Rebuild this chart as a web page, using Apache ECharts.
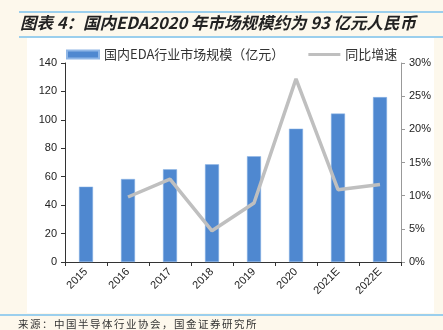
<!DOCTYPE html>
<html><head><meta charset="utf-8">
<script src="https://cdn.jsdelivr.net/npm/echarts@6/dist/echarts.min.js"></script>
<style>html,body{margin:0;padding:0;background:#fdf8ec;}#c{width:443px;height:330px;}</style>
</head><body><div id="c"></div>
<script>
var categories = ['2015','2016','2017','2018','2019','2020','2021E','2022E'];
var marketSize = [53.0, 58.4, 65.2, 68.7, 74.4, 93.8, 104.4, 116.0];
var growth = [null, 9.8, 12.5, 4.7, 8.9, 27.6, 10.9, 11.7];
var leftTicks = [0, 20, 40, 60, 80, 100, 120, 140];
var rightTicks = ['0%','5%','10%','15%','20%','25%','30%'];
var titleText = '图表 4：国内EDA2020 年市场规模约为 93 亿元人民币';
var sourceText = '来源：中国半导体行业协会，国金证券研究所';
var seriesNames = ['国内EDA行业市场规模（亿元）', '同比增速'];

var chart = echarts.init(document.getElementById('c'), null, {renderer:'canvas'});
var fontLatin = 'Liberation Sans, Arial, sans-serif';
var fontCJK = '"Noto Sans CJK SC", sans-serif';

var sourceChars = sourceText.split('').map(function(ch, i){
  return {type:'text', x:18 + i*12, y:319, style:{text:ch, font:'10.5px "Noto Sans CJK SC", sans-serif', fill:'#333'}};
});

chart.setOption({
  animation:false,
  backgroundColor:'#fdf8ec',
  graphic:[
    {type:'rect', z:-10, shape:{x:27,y:38,width:407,height:275}, style:{fill:'#ffffff'}},
    {type:'line', shape:{x1:19,y1:12,x2:443,y2:12}, style:{stroke:'#3aa6ee',lineWidth:1.2}},
    {type:'line', shape:{x1:19,y1:37,x2:443,y2:37}, style:{stroke:'#3aa6ee',lineWidth:1.2}},
    {type:'line', shape:{x1:0,y1:315,x2:443,y2:315}, style:{stroke:'#3aa6ee',lineWidth:1.2}},
    {type:'text', left:20, top:14, style:{text:titleText, font:'italic bold 16.5px "Noto Sans CJK SC", sans-serif', fill:'#222'}},
    {type:'group', children:sourceChars}
  ],
  legend:{
    top:43, left:61, itemGap:24,
    textStyle:{fontFamily:fontCJK, fontSize:13, color:'#333'},
    data:[
      {name:seriesNames[0], icon:'rect', itemStyle:{color:'#4f88d0'}},
      {name:seriesNames[1], icon:'path://M0,0L32,0L32,3L0,3Z', itemStyle:{color:'#bfbfbf'}}
    ],
    itemWidth:32, itemHeight:8
  },
  grid:{left:65, right:42, top:63, bottom:68},
  xAxis:{
    type:'category', data:categories,
    axisLine:{lineStyle:{color:'#333', width:1}},
    axisTick:{show:true, length:4, lineStyle:{color:'#333'}},
    axisLabel:{rotate:45, fontFamily:fontLatin, fontSize:11, color:'#222', margin:8}
  },
  yAxis:[
    {type:'value', min:0, max:140, interval:20,
     axisLine:{show:true, lineStyle:{color:'#333'}},
     axisTick:{show:true, length:4, lineStyle:{color:'#333'}},
     splitLine:{show:false},
     axisLabel:{fontFamily:fontLatin, fontSize:11, color:'#222', margin:8,
       formatter:function(v){return leftTicks.indexOf(v)>=0? String(v):'';}}},
    {type:'value', min:0, max:30, interval:5, position:'right',
     axisLine:{show:true, lineStyle:{color:'#999'}},
     axisTick:{show:true, length:4, lineStyle:{color:'#999'}},
     splitLine:{show:false},
     axisLabel:{fontFamily:fontLatin, fontSize:11, color:'#222', margin:8,
       formatter:function(v){return rightTicks[Math.round(v/5)];}}}
  ],
  series:[
    {name:seriesNames[0], type:'bar', data:marketSize, barWidth:14,
     itemStyle:{color:'#4f88d0', borderColor:'#8fb6e6', borderWidth:0.5}},
    {name:seriesNames[1], type:'line', yAxisIndex:1, data:growth, symbol:'none',
     lineStyle:{color:'#bfbfbf', width:3.5}, itemStyle:{color:'#bfbfbf'}}
  ]
});
</script></body></html>
